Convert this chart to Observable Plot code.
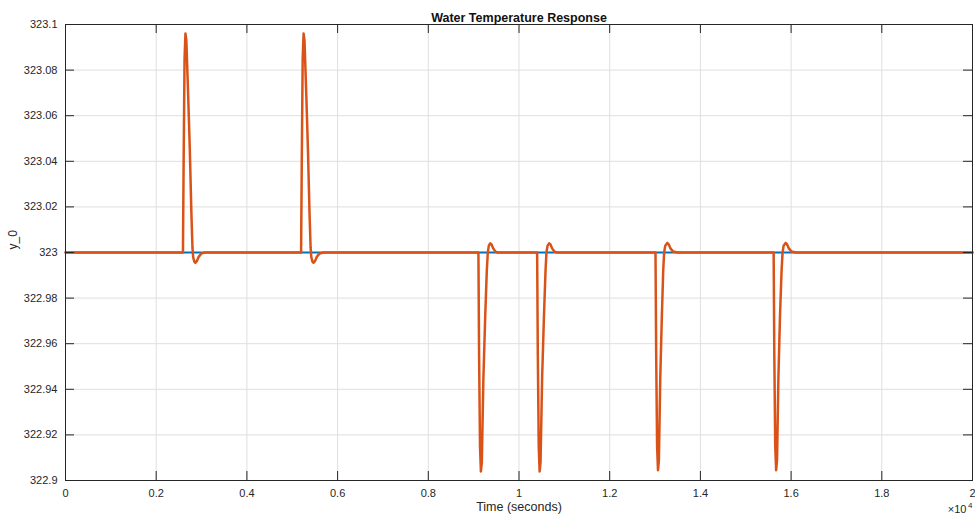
<!DOCTYPE html>
<html><head><meta charset="utf-8">
<script src="https://cdn.jsdelivr.net/npm/d3@7"></script>
<script src="https://cdn.jsdelivr.net/npm/@observablehq/plot@0.6"></script>
<style>body{margin:0;background:#fff} svg{display:block}</style>
</head><body><div id="chart"></div>
<script>
const title = "Water Temperature Response";
const xLabel = "Time (seconds)";
const yLabel = "y_0";
const xExponentBase = "×10";
const xExponent = "4";
const xTicks = [0, 2000, 4000, 6000, 8000, 10000, 12000, 14000, 16000, 18000, 20000];
const xTickLabels = ["0", "0.2", "0.4", "0.6", "0.8", "1", "1.2", "1.4", "1.6", "1.8", "2"];
const yTicks = [322.9, 322.92, 322.94, 322.96, 322.98, 323, 323.02, 323.04, 323.06, 323.08, 323.1];
const yTickLabels = ["322.9", "322.92", "322.94", "322.96", "322.98", "323", "323.02", "323.04", "323.06", "323.08", "323.1"];

// reference (blue) series
const referenceTime = [0, 20000];
const referenceTemp = [323, 323];

// measured response (orange) series
const responseTime = [
  0, 2590, 2605, 2625, 2645, 2665, 2700, 2740, 2775, 2800, 2815, 2840, 2865, 2895, 2940, 3000, 3080,
  5195, 5210, 5230, 5250, 5270, 5305, 5345, 5380, 5405, 5420, 5445, 5470, 5500, 5545, 5605, 5690,
  9105, 9120, 9140, 9160, 9180, 9215, 9255, 9290, 9312, 9335, 9365, 9395, 9430, 9480, 9530,
  10400, 10415, 10435, 10455, 10475, 10510, 10550, 10585, 10605, 10630, 10665, 10695, 10730, 10780, 10840,
  13010, 13025, 13045, 13065, 13085, 13115, 13150, 13180, 13200, 13225, 13270, 13300, 13340, 13400, 13500,
  15615, 15630, 15650, 15670, 15690, 15720, 15755, 15790, 15812, 15835, 15880, 15910, 15950, 16010, 16110,
  20000
];
const responseTemp = [
  323, 323, 323.04, 323.085, 323.096, 323.093, 323.072, 323.046, 323.018, 323.002, 322.998, 322.996, 322.9955, 322.9962, 322.9982, 322.9996, 323,
  323, 323.04, 323.085, 323.096, 323.093, 323.072, 323.046, 323.018, 323.002, 322.998, 322.996, 322.9955, 322.9962, 322.9982, 322.9996, 323,
  323, 322.955, 322.915, 322.904, 322.908, 322.945, 322.972, 322.992, 323.0, 323.003, 323.004, 323.0035, 323.0018, 323.0004, 323,
  323, 322.955, 322.915, 322.904, 322.908, 322.945, 322.972, 322.992, 323.0, 323.003, 323.004, 323.0035, 323.0018, 323.0004, 323,
  323, 322.955, 322.915, 322.9045, 322.909, 322.945, 322.972, 322.992, 323.0, 323.003, 323.0042, 323.0036, 323.0018, 323.0004, 323,
  323, 322.955, 322.915, 322.9045, 322.909, 322.945, 322.972, 322.992, 323.0, 323.003, 323.0042, 323.0036, 323.0018, 323.0004, 323,
  323
];

const reference = referenceTime.map((t, i) => ({t, v: referenceTemp[i]}));
const response = responseTime.map((t, i) => ({t, v: responseTemp[i]}));
const xLab = new Map(xTicks.map((d, i) => [d, xTickLabels[i]]));
const yLab = new Map(yTicks.map((d, i) => [d, yTickLabels[i]]));

const ink = "#262626";
const gridColor = "#dfdfdf";

const chart = Plot.plot({
  width: 975,
  height: 520,
  marginLeft: 65,
  marginRight: 3,
  marginTop: 24,
  marginBottom: 40,
  style: {fontFamily: "'Liberation Sans', Arial, Helvetica, sans-serif", fontSize: "11px", color: ink, background: "#fff"},
  x: {domain: [0, 20000]},
  y: {domain: [322.9, 323.1]},
  marks: [
    Plot.gridX(xTicks, {stroke: gridColor, strokeOpacity: 1}),
    Plot.gridY(yTicks, {stroke: gridColor, strokeOpacity: 1}),
    Plot.line(reference, {x: "t", y: "v", stroke: "#0072BD", strokeWidth: 2}),
    Plot.line(response, {x: "t", y: "v", stroke: "#D95319", strokeWidth: 2.5, strokeLinejoin: "round"}),
    Plot.frame({stroke: ink, strokeWidth: 1}),
    Plot.ruleX(xTicks, {x: d => d, insetTop: 447, stroke: ink}),
    Plot.ruleX(xTicks, {x: d => d, insetBottom: 447, stroke: ink}),
    Plot.ruleY(yTicks, {y: d => d, insetRight: 898, stroke: ink}),
    Plot.ruleY(yTicks, {y: d => d, insetLeft: 898, stroke: ink}),
    Plot.axisX(xTicks, {tickSize: 0, tickPadding: 9, tickFormat: d => xLab.get(d), label: null, fill: ink}),
    Plot.axisY(yTicks, {tickSize: 0, tickPadding: 8, tickFormat: d => yLab.get(d), label: null, fill: ink}),
    Plot.text([title], {frameAnchor: "top", dy: -11, fontWeight: "bold", fontSize: 12.5, fill: "#111", text: d => d}),
    Plot.text([xLabel], {frameAnchor: "bottom", dy: 30, fontSize: 12.5, fill: ink, text: d => d}),
    Plot.text([yLabel], {frameAnchor: "left", dx: -52, dy: -3, rotate: -90, fontSize: 12, fill: ink, text: d => d}),
    Plot.text([xExponentBase], {frameAnchor: "bottom-right", dx: -6, dy: 32, textAnchor: "end", fontSize: 11, fill: ink, text: d => d}),
    Plot.text([xExponent], {frameAnchor: "bottom-right", dx: 0, dy: 27, textAnchor: "end", fontSize: 8, fill: ink, text: d => d})
  ]
});
document.getElementById("chart").appendChild(chart);
</script>
</body></html>
